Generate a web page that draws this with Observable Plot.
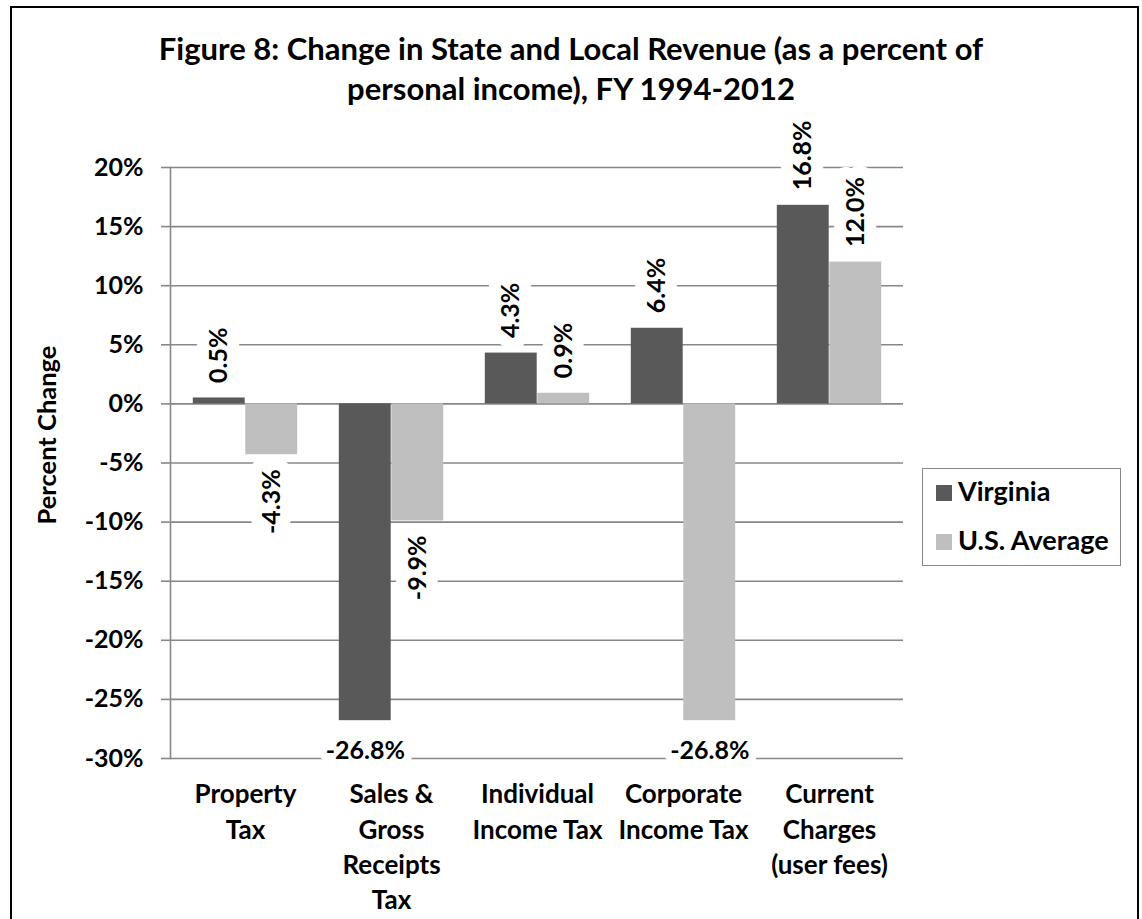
<!DOCTYPE html>
<html>
<head>
<meta charset="utf-8">
<script src="https://cdn.jsdelivr.net/npm/d3@7"></script>
<script src="https://cdn.jsdelivr.net/npm/@observablehq/plot@0.6"></script>
<style>
  html, body { margin: 0; padding: 0; background: #fff; }
  #page { position: relative; width: 1142px; height: 919px; overflow: hidden; background: #fff; font-family: Lato, "Open Sans", sans-serif; }
  #title { position: relative; height: 109px; box-sizing: border-box; padding-top: 28px; text-align: center; font-weight: bold; font-size: 31px; line-height: 40px; color: #000; white-space: nowrap; }
  #chart { position: relative; }
  #legend { position: absolute; left: 922px; top: 468px; width: 199px; height: 98px; box-sizing: border-box; border: 1.5px solid #878787; background: #fff; }
  #legend .sw { position: absolute; left: 13px; width: 16px; height: 16px; }
  #legend .lb { position: absolute; left: 35px; font-weight: bold; font-size: 27px; line-height: 27px; color: #000; white-space: nowrap; }
  #frame { position: absolute; left: 9.75px; top: 6.25px; width: 1129.5px; height: 1000px; box-sizing: border-box; border: 2.5px solid #000; pointer-events: none; }
</style>
</head>
<body>
<div id="page">
  <div id="title"></div>
  <div id="chart"></div>
  <div id="legend"></div>
  <div id="frame"></div>
</div>
<script>
// ---- data ----
const titleLines = ["Figure 8: Change in State and Local Revenue (as a percent of", "personal income), FY 1994-2012"];
const categories = ["Property\nTax", "Sales &\nGross\nReceipts\nTax", "Individual\nIncome Tax", "Corporate\nIncome Tax", "Current\nCharges\n(user fees)"];
const seriesNames = ["Virginia", "U.S. Average"];
const virginia = [0.5, -26.8, 4.3, 6.4, 16.8];
const usAverage = [-4.3, -9.9, 0.9, -26.8, 12.0];
const yTicks = [-30, -25, -20, -15, -10, -5, 0, 5, 10, 15, 20];
const seriesColors = ["#595959", "#BFBFBF"];
const yLabel = "Percent Change";

// ---- build table ----
const values = [virginia, usAverage];
const data = categories.flatMap((c, i) => seriesNames.map((s, j) => ({category: c, series: s, value: values[j][i]})));

document.getElementById("title").innerHTML = titleLines.join("<br>");

const grid = "#878787";
const fmt = d => d.value.toFixed(1) + "%";
const halo = {stroke: "white", strokeWidth: 24, paintOrder: "stroke", fill: "black", fontSize: 25};

function seriesMarks(name, idx) {
  const rows = data.filter(d => d.series === name);
  const inL = idx === 0 ? 20.8 : 73.3;
  const inR = idx === 0 ? 73.3 : 20.8;
  const dx = idx === 0 ? -26.25 : 26.25;
  return [
    Plot.barY(rows, {x: "category", y: "value", fill: seriesColors[idx], insetLeft: inL, insetRight: inR}),
    Plot.text(rows.filter(d => d.value >= 0), {x: "category", y: "value", text: fmt, rotate: -90, textAnchor: "start", dx, dy: -15, ...halo}),
    Plot.text(rows.filter(d => d.value < 0 && d.value > -20), {x: "category", y: "value", text: fmt, rotate: -90, textAnchor: "end", dx, dy: 14.5, ...halo}),
    Plot.text(rows.filter(d => d.value <= -20), {x: "category", y: "value", text: fmt, textAnchor: "middle", lineAnchor: "bottom", dx, dy: 38, ...halo, strokeWidth: 16})
  ];
}

const chart = Plot.plot({
  width: 1142,
  height: 810,
  marginTop: 58,
  marginBottom: 161,
  marginLeft: 170,
  marginRight: 239,
  style: {fontFamily: "Lato, 'Open Sans', sans-serif", fontWeight: "bold", fontSize: "25px", color: "black", background: "transparent", overflow: "visible"},
  x: {domain: categories, padding: 0, axis: null},
  y: {domain: [-30, 20], axis: null},
  marks: [
    Plot.ruleY(yTicks, {stroke: grid, strokeWidth: 1.6}),
    Plot.frame({anchor: "left", stroke: grid, strokeWidth: 1.6}),
    Plot.axisY({ticks: yTicks, tickFormat: d => d + "%", tickSize: 9, tickPadding: 18, stroke: grid, strokeWidth: 1.6, fill: "black", fontSize: 25, label: null}),
    Plot.axisX({tickSize: 0, tickPadding: 20, lineHeight: 1.35, fill: "black", fontSize: 26, label: null}),
    ...seriesMarks(seriesNames[0], 0),
    ...seriesMarks(seriesNames[1], 1),
    Plot.text([yLabel], {text: d => d, frameAnchor: "left", textAnchor: "middle", rotate: -90, dx: -123, dy: -28, fill: "black", fontSize: 25.5})
  ]
});
document.getElementById("chart").appendChild(chart);

// ---- legend ----
const legend = document.getElementById("legend");
const swTops = [16, 65];
const lbTops = [8, 57];
seriesNames.forEach((s, i) => {
  const sw = document.createElement("div");
  sw.className = "sw"; sw.style.top = swTops[i] + "px"; sw.style.background = seriesColors[i];
  const lb = document.createElement("div");
  lb.className = "lb"; lb.style.top = lbTops[i] + "px"; lb.textContent = s;
  legend.appendChild(sw); legend.appendChild(lb);
});
</script>
</body>
</html>
